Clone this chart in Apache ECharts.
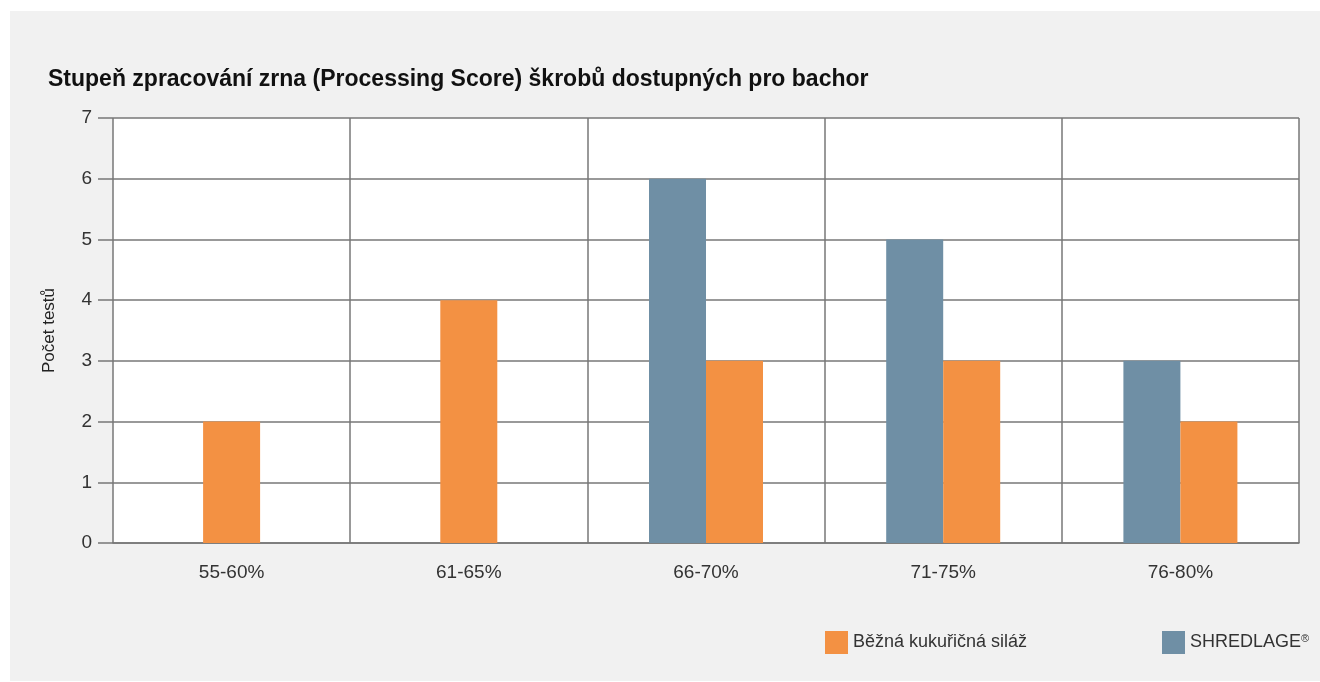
<!DOCTYPE html>
<html>
<head>
<meta charset="utf-8">
<script src="https://cdn.jsdelivr.net/npm/echarts@6/dist/echarts.min.js"></script>
<style>
  html, body { margin: 0; padding: 0; background: #fff; }
  #echartsMain { width: 1320px; height: 682px; }
</style>
</head>
<body>
<div id="echartsMain"></div>
<script>
// data
var categories = ['55-60%', '61-65%', '66-70%', '71-75%', '76-80%'];
var shredlage = [0, 0, 6, 5, 3];
var bezna = [2, 4, 3, 3, 2];
var yTicks = [0, 1, 2, 3, 4, 5, 6, 7];

var nameBezna = 'Běžná kukuřičná siláž';
var nameShred = 'SHREDLAGE®';

// kde chybí SHREDLAGE, oranžový sloupec je uprostřed kategorie
var shredVals = shredlage.map(function (v) { return v > 0 ? v : null; });
var beznaPair = bezna.map(function (v, i) { return shredlage[i] > 0 ? v : null; });
var beznaSolo = bezna.map(function (v, i) { return shredlage[i] > 0 ? null : v; });

var lineCol = '#777';
var font = 'Liberation Sans';

var myChart = echarts.init(document.getElementById('echartsMain'));

var legendText = {
    fontFamily: font, fontSize: 18, color: '#333',
    rich: { sup: { fontFamily: font, fontSize: 11, color: '#333', verticalAlign: 'top', padding: [0, 0, 8, 0] } }
};

var option = {
    textStyle: { fontFamily: font },
    graphic: [{
        type: 'rect',
        z: -10,
        shape: { x: 10, y: 11, width: 1310, height: 670 },
        style: { fill: '#f1f1f1' }
    }],
    title: {
        text: 'Stupeň zpracování zrna (Processing Score) škrobů dostupných pro bachor',
        left: 48,
        top: 68,
        padding: 0,
        textStyle: { fontFamily: font, fontSize: 23, fontWeight: 'bold', color: '#111' }
    },
    legend: [{
        left: 825, top: 631, padding: 0,
        itemWidth: 23, itemHeight: 23, icon: 'rect',
        data: [nameBezna],
        textStyle: legendText
    }, {
        left: 1162, top: 631, padding: 0,
        itemWidth: 23, itemHeight: 23, icon: 'rect',
        data: [nameShred],
        formatter: function (n) { return n.replace('®', '{sup|®}'); },
        textStyle: legendText
    }],
    grid: {
        left: 113, top: 118, width: 1186, height: 425,
        show: true, backgroundColor: '#fff', borderWidth: 0
    },
    xAxis: [{
        type: 'category',
        data: categories,
        axisLine: { lineStyle: { color: lineCol, width: 1.5 } },
        axisTick: { length: 35, lineStyle: { color: lineCol, width: 1.5 } },
        splitLine: { show: true, lineStyle: { color: lineCol, width: 1.5 } },
        axisLabel: { margin: 20, fontSize: 19, color: '#333', fontFamily: font }
    }, {
        type: 'category',
        data: categories,
        show: false
    }],
    yAxis: {
        type: 'value',
        min: yTicks[0],
        max: yTicks[yTicks.length - 1],
        interval: 1,
        name: 'Počet testů',
        nameLocation: 'middle',
        nameRotate: 90,
        nameGap: 55,
        nameTextStyle: { fontSize: 17, color: '#222', fontFamily: font },
        axisLine: { show: false },
        axisTick: { show: true, length: 15, lineStyle: { color: lineCol, width: 1.5 } },
        splitLine: { lineStyle: { color: lineCol, width: 1.5 } },
        axisLabel: { margin: 21, fontSize: 19, color: '#333', fontFamily: font }
    },
    series: [{
        name: nameShred,
        type: 'bar',
        xAxisIndex: 0,
        barWidth: 57,
        barGap: '0%',
        itemStyle: { color: '#6f8fa5' },
        data: shredVals
    }, {
        name: nameBezna,
        type: 'bar',
        xAxisIndex: 0,
        barWidth: 57,
        barGap: '0%',
        itemStyle: { color: '#f39143' },
        data: beznaPair
    }, {
        name: nameBezna,
        type: 'bar',
        xAxisIndex: 1,
        barWidth: 57,
        itemStyle: { color: '#f39143' },
        data: beznaSolo
    }]
};

myChart.setOption(option);
</script>
</body>
</html>
